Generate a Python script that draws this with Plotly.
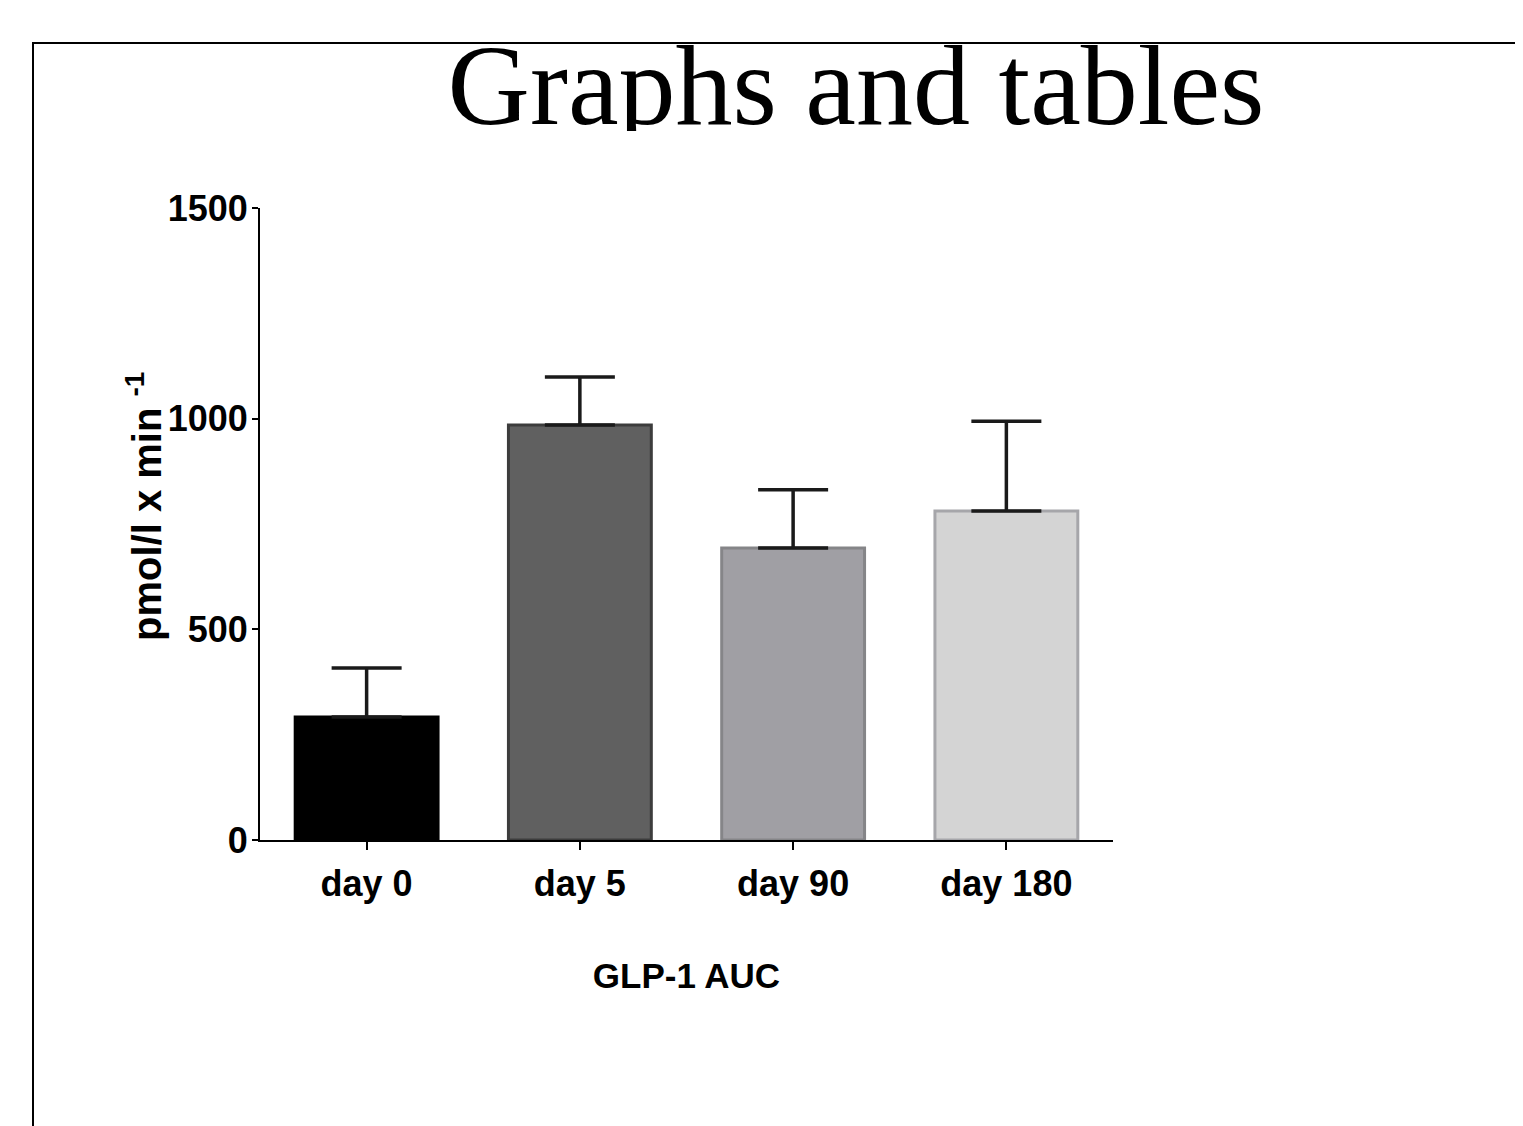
import plotly.graph_objects as go

categories = ["day 0", "day 5", "day 90", "day 180"]
auc_mean = [292, 985, 693, 781]
auc_err = [116, 114, 138, 213]
fill_colors = ["#000000", "#606060", "#a09fa4", "#d4d4d4"]
line_colors = ["#000000", "#3c3c3c", "#858588", "#a6a6aa"]
y_ticks = [0, 500, 1000, 1500]
title_text = "Graphs and tables"
y_title = "pmol/l x min <sup>-1</sup>"
x_title = "GLP-1 AUC"

OFF = 8                      # page body margin of the html page
FW, FH = 1523 - OFF, 1126 - OFF


def px(sx):                  # screen x -> paper x
    return (sx - OFF) / FW


def py(sy):                  # screen y -> paper y
    return 1 - (sy - OFF) / FH


fig = go.Figure()
fig.add_trace(go.Bar(
    x=categories, y=auc_mean, width=0.67,
    marker=dict(color=fill_colors, line=dict(color=line_colors, width=3)),
    error_y=dict(type="data", array=auc_err, arrayminus=[0] * len(auc_err),
                 symmetric=False, color="#1a1a1a", thickness=3.5, width=35),
    showlegend=False, xaxis="x", yaxis="y",
))

# clipped page title (text trace inside its own clipping subplot)
fig.add_trace(go.Scatter(
    x=[856 - OFF], y=[-95], mode="text", text=[title_text],
    textposition="middle center", cliponaxis=True,
    textfont=dict(family="Liberation Serif, Times New Roman, serif", size=114, color="black"),
    showlegend=False, hoverinfo="skip", xaxis="x2", yaxis="y2",
))

sans = "Liberation Sans, Arial, sans-serif"
tick_font = dict(family=sans, size=36, color="#000000", weight="bold")

fig.update_layout(
    template="none",
    width=FW, height=FH, autosize=False,
    margin=dict(l=0, r=0, t=0, b=0, pad=0),
    paper_bgcolor="white", plot_bgcolor="white",
    xaxis=dict(
        domain=[px(260), px(1113)], anchor="y", automargin=False,
        range=[-0.5, 3.5], showgrid=False, zeroline=False,
        showline=True, linecolor="black", linewidth=2,
        ticks="outside", ticklen=8, tickwidth=2, tickcolor="black",
        tickfont=tick_font, ticklabelstandoff=3,
        title=dict(text=x_title, font=dict(family=sans, size=35, color="black", weight="bold"), standoff=60),
    ),
    yaxis=dict(
        domain=[py(840), py(208)], anchor="x", automargin=False,
        range=[0, 1500], tickvals=y_ticks, showgrid=False, zeroline=False,
        showline=True, linecolor="black", linewidth=2,
        ticks="outside", ticklen=6, tickwidth=2, tickcolor="black",
        tickfont=tick_font, ticklabelstandoff=-3,
    ),
    xaxis2=dict(domain=[0, 1], anchor="y2", range=[0, FW], visible=False,
                fixedrange=True, automargin=False),
    yaxis2=dict(domain=[py(131), py(45)], anchor="x2", range=[-131, -45], visible=False,
                fixedrange=True, automargin=False),
    font=dict(family=sans, color="black"),
)

# y-axis title as a rotated annotation
fig.add_annotation(
    text=y_title, xref="paper", yref="paper", x=px(144), y=py(507),
    xanchor="center", yanchor="middle", textangle=-90, showarrow=False,
    font=dict(family=sans, size=40, color="black", weight="bold"),
)

# page frame
fig.add_shape(type="line", xref="paper", yref="paper",
              x0=px(32), x1=px(1530), y0=py(43), y1=py(43),
              line=dict(color="black", width=2))
fig.add_shape(type="line", xref="paper", yref="paper",
              x0=px(33), x1=px(33), y0=py(43), y1=py(1135),
              line=dict(color="black", width=2))

fig.write_html("out.html")
